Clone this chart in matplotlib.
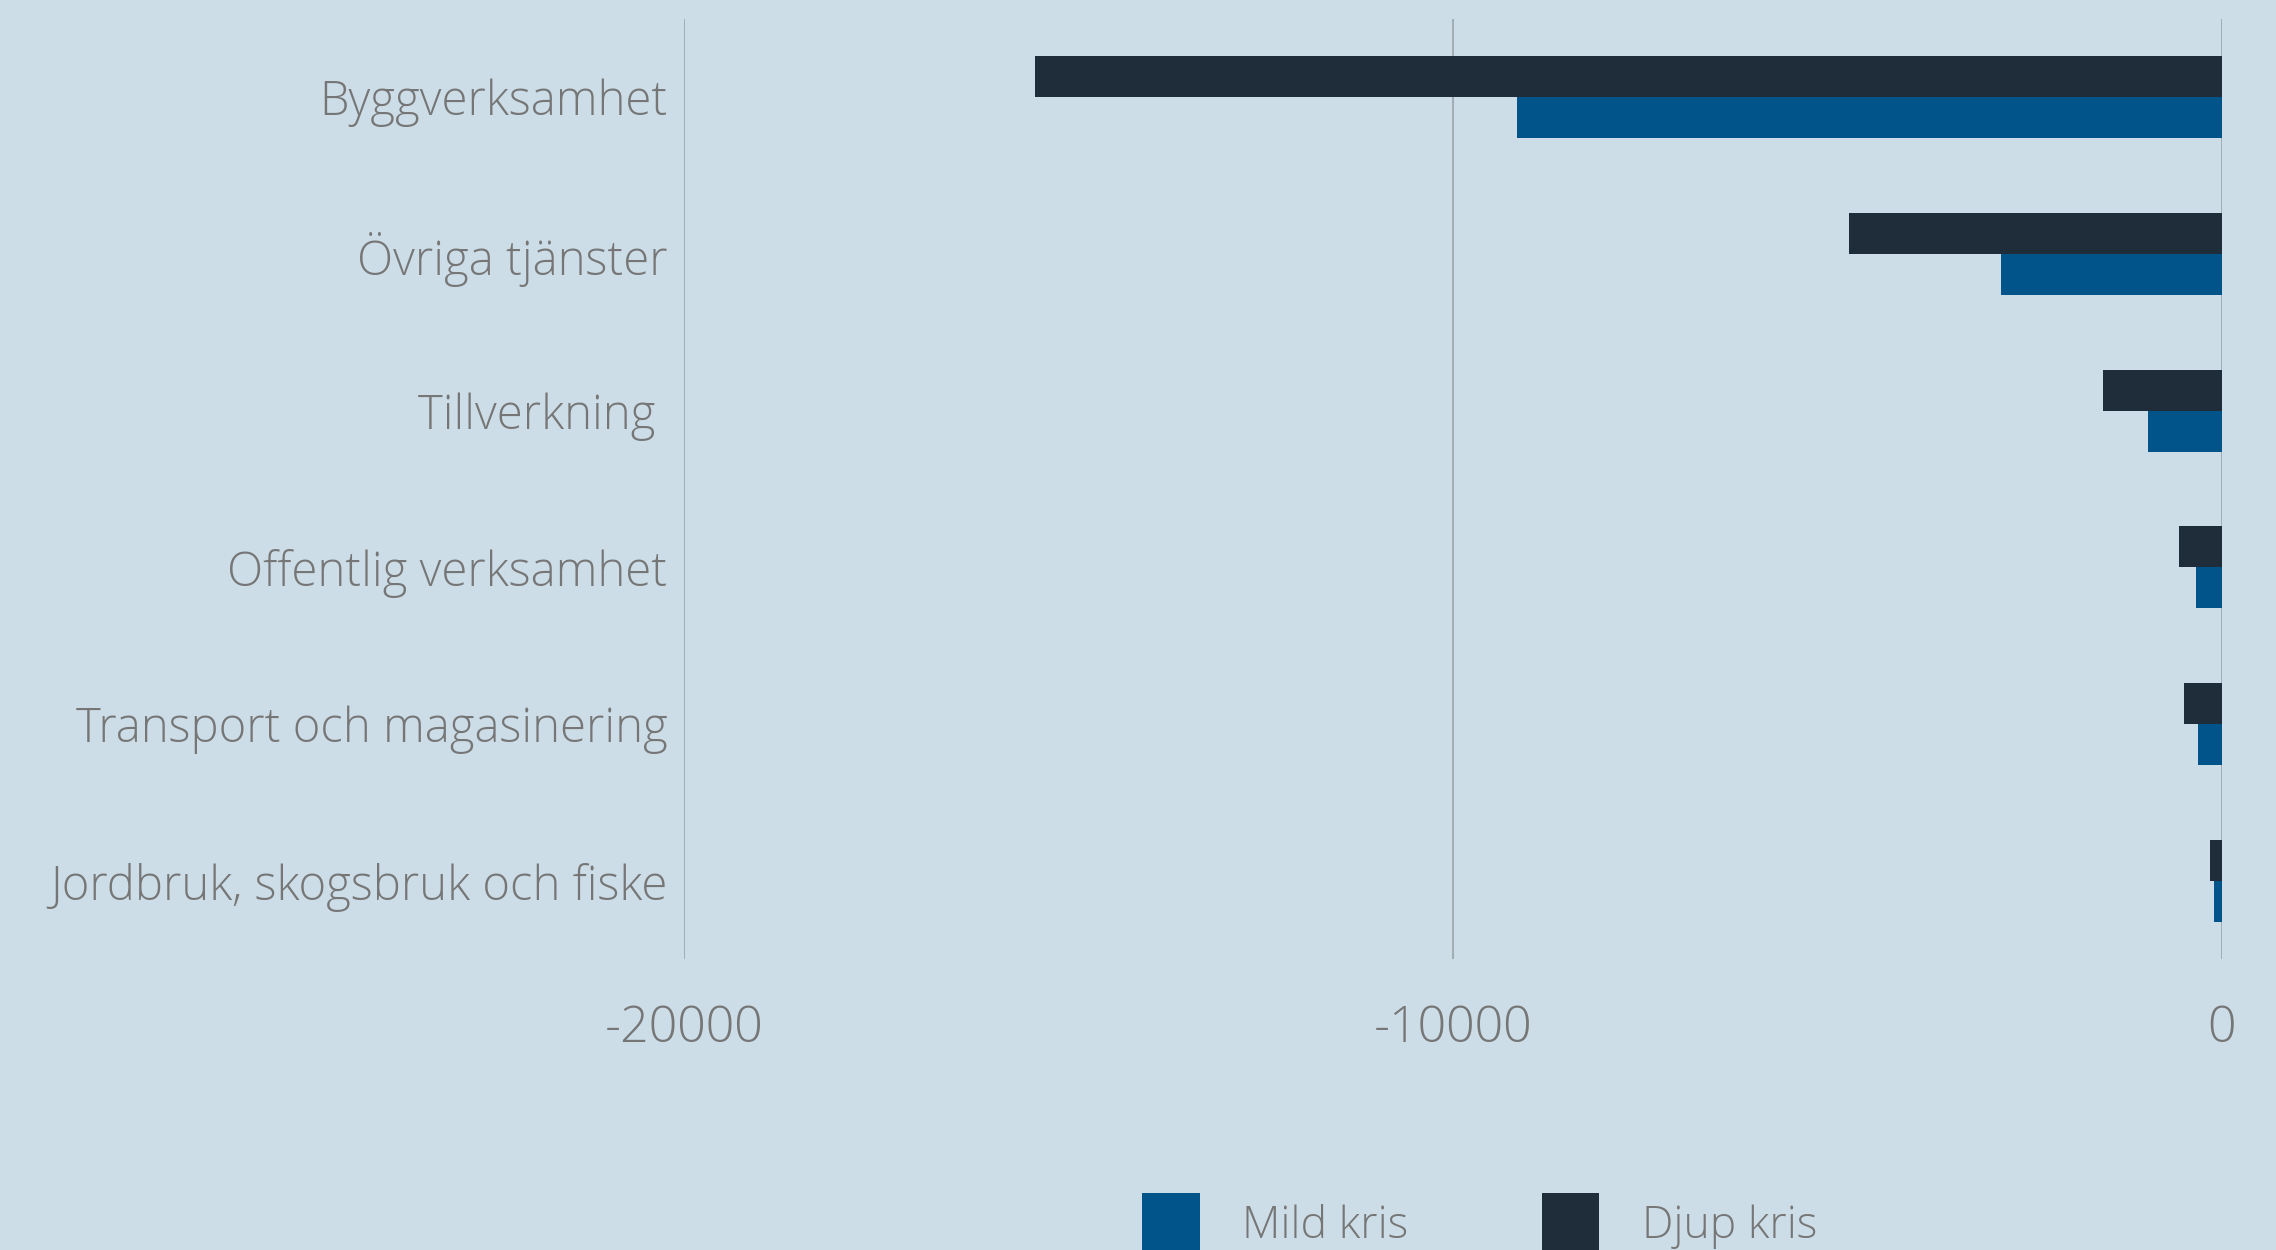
import matplotlib
matplotlib.use("Agg")
import matplotlib.pyplot as plt
import numpy as np

# sysselsättningseffekt per bransch, två scenarier
branscher = [
    "Byggverksamhet",
    "Övriga tjänster",
    "Tillverkning ",
    "Offentlig verksamhet",
    "Transport och magasinering",
    "Jordbruk, skogsbruk och fiske",
]
mild_kris = [-9170, -2880, -960, -335, -310, -100]
djup_kris = [-15430, -4850, -1550, -560, -500, -155]
x_ticks = [-20000, -10000, 0]

BG = "#ccdde7"
MILD = "#00548a"
DJUP = "#1f2d3a"
TXT = "#767676"
GRID = "#9fa8af"

plt.rcParams["font.family"] = ["Open Sans", "DejaVu Sans"]
plt.rcParams["font.weight"] = "light"

fig = plt.figure(figsize=(22.76, 12.5), dpi=100, facecolor=BG)
ax = fig.add_axes([684 / 2276, 1 - 959.4 / 1250, (2222 - 684) / 2276, (959.4 - 18.6) / 1250])
ax.set_facecolor(BG)

y = np.arange(len(branscher))
h = 0.262
ax.barh(y - h / 2, djup_kris, height=h, color=DJUP, label="Djup kris", zorder=3)
ax.barh(y + h / 2, mild_kris, height=h, color=MILD, label="Mild kris", zorder=3)

ax.set_xlim(-20000, 0)
ax.set_ylim(len(branscher) - 0.5, -0.5)
ax.set_xticks(x_ticks)
ax.set_xticklabels([str(v) for v in x_ticks])
ax.set_yticks(y)
ax.set_yticklabels(branscher)

ax.grid(axis="x", color=GRID, linewidth=1.3, zorder=0)
ax.grid(axis="y", visible=False)
for s in ax.spines.values():
    s.set_visible(False)

ax.tick_params(axis="x", length=0, pad=32, labelsize=36, labelcolor=TXT)
ax.tick_params(axis="y", length=0, pad=12, labelsize=34, labelcolor=TXT)

handles, labels = ax.get_legend_handles_labels()
order = [1, 0]
fig.legend([handles[i] for i in order], [labels[i] for i in order],
           loc="upper left", bbox_to_anchor=(1142 / 2276, 1 - 1193 / 1250),
           ncol=2, frameon=False, fontsize=32, labelcolor=TXT,
           borderpad=0, borderaxespad=0, handlelength=1.3, handleheight=1.75,
           handletextpad=0.95, columnspacing=3.0)

fig.savefig("out.png", dpi=100, facecolor=BG)
